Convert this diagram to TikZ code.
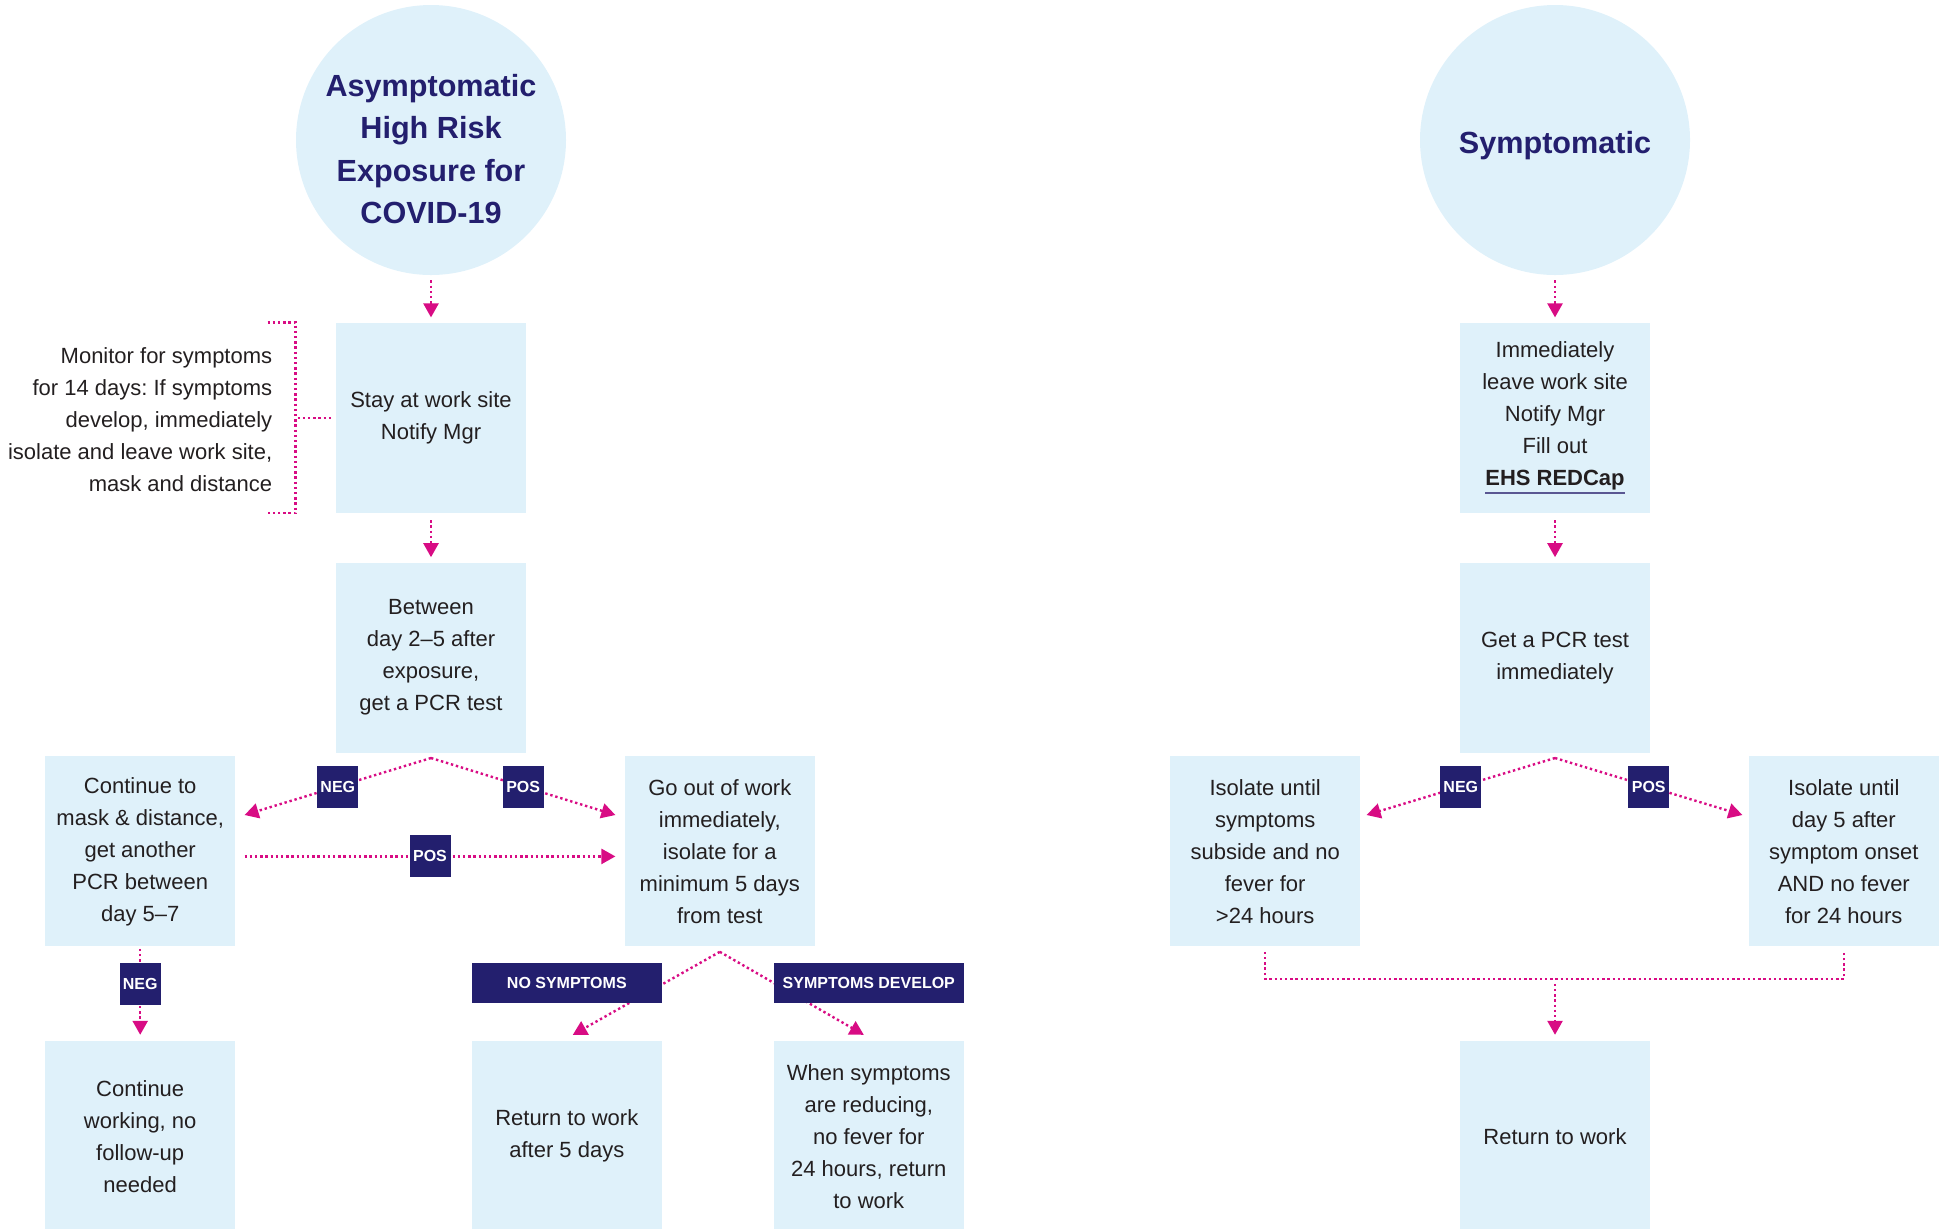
\documentclass[tikz,border=0pt]{standalone}
\usepackage{fontspec}
\setmainfont{Liberation Sans}
\usepackage{xcolor}
\usetikzlibrary{arrows.meta, positioning, calc}
\definecolor{boxcolor}{RGB}{223,241,250}
\definecolor{navycolor}{RGB}{35,31,110}
\definecolor{linkcolor}{RGB}{216,12,132}
\definecolor{textcolor}{RGB}{35,31,32}
\newsavebox{\redcapbox}
\newcommand{\navyunderline}[1]{\leavevmode\sbox{\redcapbox}{#1}\rlap{\textcolor{navycolor!75}{\rule[-4pt]{\wd\redcapbox}{0.9pt}}}\usebox{\redcapbox}}

\begin{document}
\frenchspacing
\begin{tikzpicture}[x=0.5pt, y=-0.5pt, node distance=24pt,
    topic/.style={circle, fill=boxcolor, minimum size=135pt, inner sep=0pt},
    title/.style={align=center, inner sep=0pt, text=navycolor, font=\fontsize{15.3}{21.2}\selectfont\bfseries},
    stepbox/.style={rectangle, fill=boxcolor, minimum width=95pt, minimum height=95pt, inner sep=2pt, align=center, text=textcolor, font=\fontsize{11}{16}\selectfont},
    note/.style={align=right, text=textcolor, font=\fontsize{11}{16}\selectfont, inner sep=0pt},
    tag/.style={rectangle, fill=navycolor, text=white, font=\fontsize{8}{10}\selectfont\bfseries, minimum width=20.5pt, minimum height=21pt, inner sep=1pt},
    widetag/.style={tag, minimum width=95pt, minimum height=20pt},
    link/.style={draw=linkcolor, line width=1.2pt, dash pattern=on 1.2pt off 1.4pt},
    arrow/.style={link, ->, >={Triangle[length=7pt, width=7.5pt]}}]

    \useasboundingbox (0,0) rectangle (1947,1228);

    % Asymptomatic side
    \node [topic] (asym) at (431,140) {};
    \node [title] (asymtitle) at ([yshift=-4.5pt]asym.center) {Asymptomatic\\High Risk\\Exposure for\\COVID-19};
    \node [stepbox, below=23.5pt of asym] (stay) {Stay at work site\\Notify Mgr};
    \node [stepbox, below=24.5pt of stay] (pcr) {Between\\day 2–5 after\\exposure,\\get a PCR test};
    \node [stepbox, below left=1.5pt and 50pt of pcr] (cont) {Continue to\\mask \& distance,\\get another\\PCR between\\day 5–7};
    \node [stepbox, below right=1.5pt and 49pt of pcr] (goout) {Go out of work\\immediately,\\isolate for a\\minimum 5 days\\from test};
    \node [stepbox, below=47pt of cont] (contwork) {Continue\\working, no\\follow-up\\needed};
    \node [stepbox, below=47pt of goout, xshift=-76.5pt] (ret5) {Return to work\\after 5 days};
    \node [stepbox, below=47pt of goout, xshift=74.5pt] (when) {When symptoms\\are reducing,\\no fever for\\24 hours, return\\to work};
    \node [note, left=31.5pt of stay, yshift=-1pt] (monitor) {Monitor for symptoms\\for 14 days: If symptoms\\develop, immediately\\isolate and leave work site,\\mask and distance};

    % Symptomatic side
    \node [topic] (sym) at (1555,140) {};
    \node [title] (symtitle) at ([yshift=-3pt]sym.center) {Symptomatic};
    \node [stepbox, below=23.5pt of sym] (leave) {Immediately\\leave work site\\Notify Mgr\\Fill out\\\navyunderline{\bfseries EHS REDCap}};
    \node [stepbox, below=24.5pt of leave] (pcrnow) {Get a PCR test\\immediately};
    \node [stepbox, below left=1.5pt and 49.5pt of pcrnow] (iso1) {Isolate until\\symptoms\\subside and no\\fever for\\>24 hours};
    \node [stepbox, below right=1.5pt and 49pt of pcrnow] (iso5) {Isolate until\\day 5 after\\symptom onset\\AND no fever\\for 24 hours};
    \node [stepbox] (back) at (pcrnow |- contwork) {Return to work};

    % Split points
    \coordinate [below=2.5pt of pcr] (split1);
    \coordinate [below=2.5pt of goout] (split2);
    \coordinate [below=2.5pt of pcrnow] (split3);
    \coordinate (join) at ($(back.north |- iso1.south)+(0,-18.5pt)$);

    % Arrows
    \draw [arrow, shorten <=2.5pt, shorten >=2.5pt] (asym) -- (stay);
    \draw [arrow, shorten <=3.5pt, shorten >=2.5pt] (stay) -- (pcr);
    \draw [link] ([xshift=-34pt]stay.north west) -| ([xshift=-20pt]stay.south west) -- ([xshift=-34pt]stay.south west);
    \draw [link] ([xshift=-19pt]stay.west) -- ([xshift=-1.5pt]stay.west);
    \draw [arrow] (split1) -- ([xshift=4.5pt, yshift=-29.5pt]cont.north east) node [tag, midway] {NEG};
    \draw [arrow] (split1) -- ([xshift=-4.5pt, yshift=-29.5pt]goout.north west) node [tag, midway] {POS};
    \draw [arrow] ([xshift=4.5pt, yshift=-2.5pt]cont.east) -- ([xshift=-4.5pt, yshift=-2.5pt]goout.west) node [tag, midway] {POS};
    \draw [arrow, shorten <=1pt, shorten >=3pt] (cont) -- (contwork) node [tag, pos=0.4] {NEG};
    \draw [arrow] (split2) -- ([xshift=3pt, yshift=3pt]ret5.north);
    \draw [arrow] (split2) -- ([xshift=-2.5pt, yshift=3pt]when.north);
    \node [widetag, above=18.5pt of ret5] (nosym) {NO SYMPTOMS};
    \node [widetag, above=18.5pt of when] (symdev) {SYMPTOMS DEVELOP};

    \draw [arrow, shorten <=2.5pt, shorten >=2.5pt] (sym) -- (leave);
    \draw [arrow, shorten <=3.5pt, shorten >=2.5pt] (leave) -- (pcrnow);
    \draw [arrow] (split3) -- ([xshift=3pt, yshift=-29.5pt]iso1.north east) node [tag, midway] {NEG};
    \draw [arrow] (split3) -- ([xshift=-3pt, yshift=-29.5pt]iso5.north west) node [tag, midway] {POS};
    \draw [link] ([yshift=-2.5pt]iso1.south) -- ++(0,-13.5pt) -| ([yshift=-2.5pt]iso5.south);
    \draw [arrow] (join) -- ([yshift=3pt]back.north);

\end{tikzpicture}
\end{document}
